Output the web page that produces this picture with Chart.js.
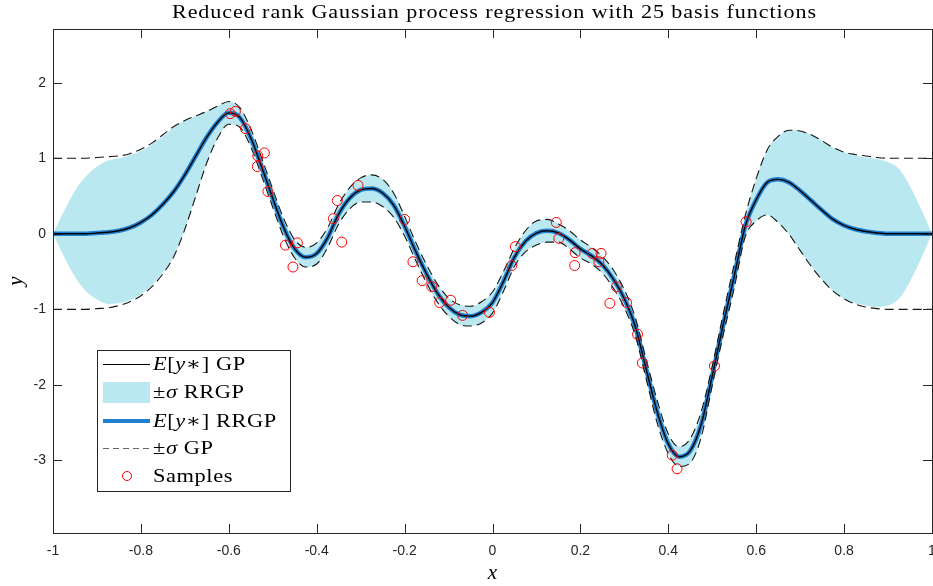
<!DOCTYPE html>
<html>
<head>
<meta charset="utf-8">
<script src="https://cdn.jsdelivr.net/npm/chart.js@4.4.0/dist/chart.umd.min.js"></script>
<style>
  html, body { margin: 0; padding: 0; background: #fff; }
</style>
</head>
<body>
<canvas id="gp-chart" width="933" height="586"></canvas>
<script>
// prediction grid
var xGrid = [-1, -0.975, -0.95, -0.925, -0.9, -0.875, -0.85, -0.825, -0.8, -0.775,
             -0.75, -0.725, -0.7, -0.675, -0.65, -0.625, -0.6, -0.575, -0.55, -0.525,
             -0.5, -0.475, -0.45, -0.425, -0.4, -0.375, -0.35, -0.325, -0.3, -0.275,
             -0.25, -0.225, -0.2, -0.175, -0.15, -0.125, -0.1, -0.075, -0.05, -0.025,
             0, 0.025, 0.05, 0.075, 0.1, 0.125, 0.15, 0.175, 0.2, 0.225,
             0.25, 0.275, 0.3, 0.325, 0.35, 0.375, 0.4, 0.425, 0.45, 0.475,
             0.5, 0.525, 0.55, 0.575, 0.6, 0.625, 0.65, 0.675, 0.7, 0.725,
             0.75, 0.775, 0.8, 0.825, 0.85, 0.875, 0.9, 0.925, 0.95, 0.975, 1];

// posterior mean (GP and RRGP coincide)
var meanGP = [0, 0, 0, 0, 0.01, 0.02, 0.04, 0.08, 0.15, 0.25,
              0.39, 0.56, 0.78, 1.03, 1.28, 1.48, 1.60, 1.54, 1.27, 0.88,
              0.47, 0.08, -0.20, -0.31, -0.26, -0.05, 0.26, 0.47, 0.58, 0.60,
              0.54, 0.38, 0.10, -0.23, -0.53, -0.79, -0.97, -1.07, -1.09, -1.04,
              -0.91, -0.63, -0.31, -0.10, 0.01, 0.04, 0.01, -0.08, -0.20, -0.29,
              -0.41, -0.60, -0.86, -1.23, -1.80, -2.36, -2.78, -2.95, -2.87, -2.52,
              -1.88, -1.20, -0.56, 0.10, 0.45, 0.68, 0.72, 0.68, 0.57, 0.44,
              0.31, 0.19, 0.11, 0.06, 0.03, 0.01, 0, 0, 0, 0, 0];
var meanRRGP = meanGP;

// posterior standard deviations
var stdGP = [1, 1, 1, 1, 1, 1, 0.99, 0.98, 0.97, 0.95,
             0.92, 0.86, 0.72, 0.53, 0.34, 0.21, 0.15, 0.13, 0.12, 0.12,
             0.12, 0.12, 0.12, 0.13, 0.14, 0.13, 0.13, 0.14, 0.16, 0.18,
             0.18, 0.16, 0.13, 0.12, 0.12, 0.12, 0.12, 0.13, 0.13, 0.14,
             0.14, 0.13, 0.12, 0.14, 0.16, 0.15, 0.12, 0.12, 0.12, 0.11,
             0.11, 0.12, 0.12, 0.12, 0.13, 0.15, 0.13, 0.13, 0.16, 0.17,
             0.13, 0.14, 0.16, 0.14, 0.28, 0.43, 0.57, 0.69, 0.79, 0.87,
             0.92, 0.95, 0.97, 0.99, 1, 1, 1, 1, 1, 1, 1];
var stdRRGP = [0, 0.30, 0.57, 0.76, 0.88, 0.95, 0.96, 0.96, 0.95, 0.93,
               0.90, 0.85, 0.72, 0.53, 0.34, 0.21, 0.15, 0.13, 0.12, 0.12,
               0.12, 0.12, 0.12, 0.13, 0.14, 0.13, 0.13, 0.14, 0.16, 0.18,
               0.18, 0.16, 0.13, 0.12, 0.12, 0.12, 0.12, 0.13, 0.13, 0.14,
               0.14, 0.13, 0.12, 0.14, 0.16, 0.15, 0.12, 0.12, 0.12, 0.11,
               0.11, 0.12, 0.12, 0.12, 0.13, 0.15, 0.13, 0.13, 0.16, 0.17,
               0.13, 0.14, 0.16, 0.14, 0.28, 0.43, 0.57, 0.69, 0.79, 0.87,
               0.92, 0.95, 0.97, 0.98, 0.98, 0.98, 0.95, 0.86, 0.63, 0.33, 0];

// noisy observations
var sampleX = [-0.597, -0.585, -0.562, -0.534, -0.519, -0.535, -0.511, -0.471, -0.444, -0.454,
               -0.353, -0.362, -0.343, -0.306, -0.200, -0.181, -0.160, -0.138, -0.120, -0.095,
               -0.068, -0.007, 0.044, 0.052, 0.145, 0.151, 0.188, 0.187, 0.227, 0.247,
               0.242, 0.282, 0.267, 0.305, 0.330, 0.341, 0.409, 0.420, 0.505, 0.577];
var sampleY = [1.59, 1.62, 1.39, 1.03, 1.07, 0.89, 0.56, -0.15, -0.12, -0.44,
               0.44, 0.20, -0.11, 0.64, 0.19, -0.37, -0.62, -0.70, -0.91, -0.88,
               -1.08, -1.04, -0.42, -0.17, 0.15, -0.06, -0.25, -0.42, -0.26, -0.26,
               -0.37, -0.70, -0.92, -0.91, -1.33, -1.71, -2.93, -3.11, -1.75, 0.16];

var xTicks = [-1, -0.8, -0.6, -0.4, -0.2, 0, 0.2, 0.4, 0.6, 0.8, 1];
var xTickLabels = ["-1", "-0.8", "-0.6", "-0.4", "-0.2", "0", "0.2", "0.4", "0.6", "0.8", "1"];
var yTicks = [-3, -2, -1, 0, 1, 2];
var yTickLabels = ["-3", "-2", "-1", "0", "1", "2"];

var titleText = "Reduced rank Gaussian process regression with 25 basis functions";

var axisColor = "#262626",
    bandBlue = "rgb(186, 232, 240)",
    lineBlue = "rgb(34, 128, 208)",
    dashColor = "rgba(10, 10, 10, 0.95)",
    sampleRed = "rgb(255, 0, 0)",
    serif = '"Liberation Serif", "DejaVu Serif", serif';

function pts(ys) {
    return xGrid.map(function (x, i) { return { x: x, y: ys[i] }; });
}
function offset(m, s, k) {
    return m.map(function (v, i) { return v + k * s[i]; });
}

function richText(ctx, parts, x, y, size) {
    parts.forEach(function (p) {
        ctx.font = (p[1] ? "italic " : "") + size + "px " + serif;
        ctx.fillText(p[0], x, y);
        x += ctx.measureText(p[0]).width;
    });
}

var decor = {
    id: "decor",
    afterDraw: function (chart) {
        var ctx = chart.ctx, a = chart.chartArea,
            xs = chart.scales.x, ys = chart.scales.y;
        ctx.save();

        // axes box + inward ticks
        ctx.strokeStyle = axisColor;
        ctx.lineWidth = 1;
        ctx.strokeRect(a.left + 0.5, a.top + 0.5, a.right - a.left, a.bottom - a.top);
        ctx.beginPath();
        xTicks.forEach(function (v) {
            var px = Math.round(xs.getPixelForValue(v)) + 0.5;
            ctx.moveTo(px, a.bottom); ctx.lineTo(px, a.bottom - 9);
            ctx.moveTo(px, a.top); ctx.lineTo(px, a.top + 9);
        });
        yTicks.forEach(function (v) {
            var py = Math.round(ys.getPixelForValue(v)) + 0.5;
            ctx.moveTo(a.left, py); ctx.lineTo(a.left + 9, py);
            ctx.moveTo(a.right, py); ctx.lineTo(a.right - 9, py);
        });
        ctx.stroke();

        // title
        ctx.fillStyle = "#000";
        ctx.textBaseline = "alphabetic";
        ctx.textAlign = "left";
        ctx.font = "19px " + serif;
        ctx.letterSpacing = "0.8px";
        var tw = ctx.measureText(titleText).width;
        ctx.save();
        ctx.translate(172, 18);
        ctx.scale(645 / tw, 1);
        ctx.fillText(titleText, 0, 0);
        ctx.restore();
        ctx.letterSpacing = "0px";

        // axis labels
        ctx.font = "italic 21px " + serif;
        ctx.textAlign = "center";
        ctx.textBaseline = "middle";
        ctx.fillText("x", (a.left + a.right) / 2, 573);
        ctx.save();
        ctx.translate(16, (a.top + a.bottom) / 2);
        ctx.rotate(-Math.PI / 2);
        ctx.fillText("y", 0, 0);
        ctx.restore();

        // legend
        var lx = 97.5, ly = 350.5, lw = 193, lh = 141;
        ctx.fillStyle = "#fff";
        ctx.fillRect(lx, ly, lw, lh);
        ctx.strokeStyle = axisColor;
        ctx.lineWidth = 1;
        ctx.strokeRect(lx, ly, lw, lh);

        var rows = [364, 392, 421, 448, 476];
        ctx.strokeStyle = "#000";
        ctx.lineWidth = 1;
        ctx.beginPath(); ctx.moveTo(103, rows[0] + 0.5); ctx.lineTo(150, rows[0] + 0.5); ctx.stroke();
        ctx.fillStyle = bandBlue;
        ctx.fillRect(103, rows[1] - 10, 47, 21);
        ctx.strokeStyle = lineBlue;
        ctx.lineWidth = 4;
        ctx.beginPath(); ctx.moveTo(103, rows[2]); ctx.lineTo(150, rows[2]); ctx.stroke();
        ctx.strokeStyle = "#666";
        ctx.lineWidth = 1;
        ctx.setLineDash([6, 4]);
        ctx.beginPath(); ctx.moveTo(103, rows[3] + 0.5); ctx.lineTo(150, rows[3] + 0.5); ctx.stroke();
        ctx.setLineDash([]);
        ctx.strokeStyle = sampleRed;
        ctx.beginPath(); ctx.arc(127, rows[4], 4.5, 0, 2 * Math.PI); ctx.stroke();

        var labels = [
            [["E", 1], ["[", 0], ["y", 1], ["\u2217", 0], ["]", 0], [" GP", 0]],
            [["\u00B1", 0], ["\u03C3", 1], [" RRGP", 0]],
            [["E", 1], ["[", 0], ["y", 1], ["\u2217", 0], ["]", 0], [" RRGP", 0]],
            [["\u00B1", 0], ["\u03C3", 1], [" GP", 0]],
            [["Samples", 0]]
        ];
        ctx.fillStyle = "#000";
        ctx.textAlign = "left";
        ctx.textBaseline = "alphabetic";
        ctx.letterSpacing = "0.5px";
        ctx.font = "19px " + serif;
        var sx = 80 / ctx.measureText("Samples").width;
        labels.forEach(function (parts, i) {
            ctx.save();
            ctx.translate(153, rows[i] + 6);
            ctx.scale(sx, 1);
            richText(ctx, parts, 0, 0, 19);
            ctx.restore();
        });
        ctx.restore();
    }
};

var lineBase = { pointRadius: 0, fill: false, cubicInterpolationMode: "monotone" };

new Chart(document.getElementById("gp-chart").getContext("2d"), {
    type: "line",
    data: {
        datasets: [
            Object.assign({}, lineBase, {
                label: "RRGP upper", data: pts(offset(meanRRGP, stdRRGP, 1)),
                borderWidth: 0, backgroundColor: bandBlue, fill: "+1", order: 5
            }),
            Object.assign({}, lineBase, {
                label: "RRGP lower", data: pts(offset(meanRRGP, stdRRGP, -1)),
                borderWidth: 0, order: 5
            }),
            Object.assign({}, lineBase, {
                label: "E[y*] RRGP", data: pts(meanRRGP),
                borderColor: lineBlue, borderWidth: 4.5, order: 4
            }),
            Object.assign({}, lineBase, {
                label: "E[y*] GP", data: pts(meanGP),
                borderColor: "#000", borderWidth: 1.4, order: 3
            }),
            Object.assign({}, lineBase, {
                label: "GP upper", data: pts(offset(meanGP, stdGP, 1)),
                borderColor: dashColor, borderWidth: 1.1, borderDash: [9, 5], order: 2
            }),
            Object.assign({}, lineBase, {
                label: "GP lower", data: pts(offset(meanGP, stdGP, -1)),
                borderColor: dashColor, borderWidth: 1.1, borderDash: [9, 5], order: 2
            }),
            {
                label: "Samples",
                data: sampleX.map(function (x, i) { return { x: x, y: sampleY[i] }; }),
                showLine: false, pointRadius: 5, pointBorderWidth: 1,
                pointBorderColor: sampleRed, pointBackgroundColor: "rgba(0,0,0,0)", order: 1
            }
        ]
    },
    options: {
        responsive: false,
        animation: false,
        layout: { autoPadding: false, padding: { top: 29, right: 1, left: 0, bottom: 0 } },
        plugins: { legend: { display: false }, tooltip: { enabled: false }, title: { display: false } },
        scales: {
            x: {
                type: "linear", min: -1, max: 1,
                grid: { display: false, drawTicks: false },
                border: { display: false },
                afterBuildTicks: function (s) { s.ticks = xTicks.map(function (v) { return { value: v }; }); },
                afterFit: function (s) { s.height = 53; s.paddingLeft = 0; s.paddingRight = 0; },
                ticks: {
                    color: axisColor, padding: 10, maxRotation: 0, autoSkip: false,
                    font: { family: '"Liberation Sans", Arial, sans-serif', size: 14 },
                    callback: function (v, i) { return xTickLabels[i]; }
                }
            },
            y: {
                type: "linear", min: -3.96, max: 2.71,
                grid: { display: false, drawTicks: false },
                border: { display: false },
                afterBuildTicks: function (s) { s.ticks = yTicks.map(function (v) { return { value: v }; }); },
                afterFit: function (s) { s.width = 53; s.paddingTop = 0; s.paddingBottom = 0; },
                ticks: {
                    color: axisColor, padding: 7, autoSkip: false,
                    font: { family: '"Liberation Sans", Arial, sans-serif', size: 14 },
                    callback: function (v, i) { return yTickLabels[i]; }
                }
            }
        }
    },
    plugins: [decor]
});
</script>
</body>
</html>
